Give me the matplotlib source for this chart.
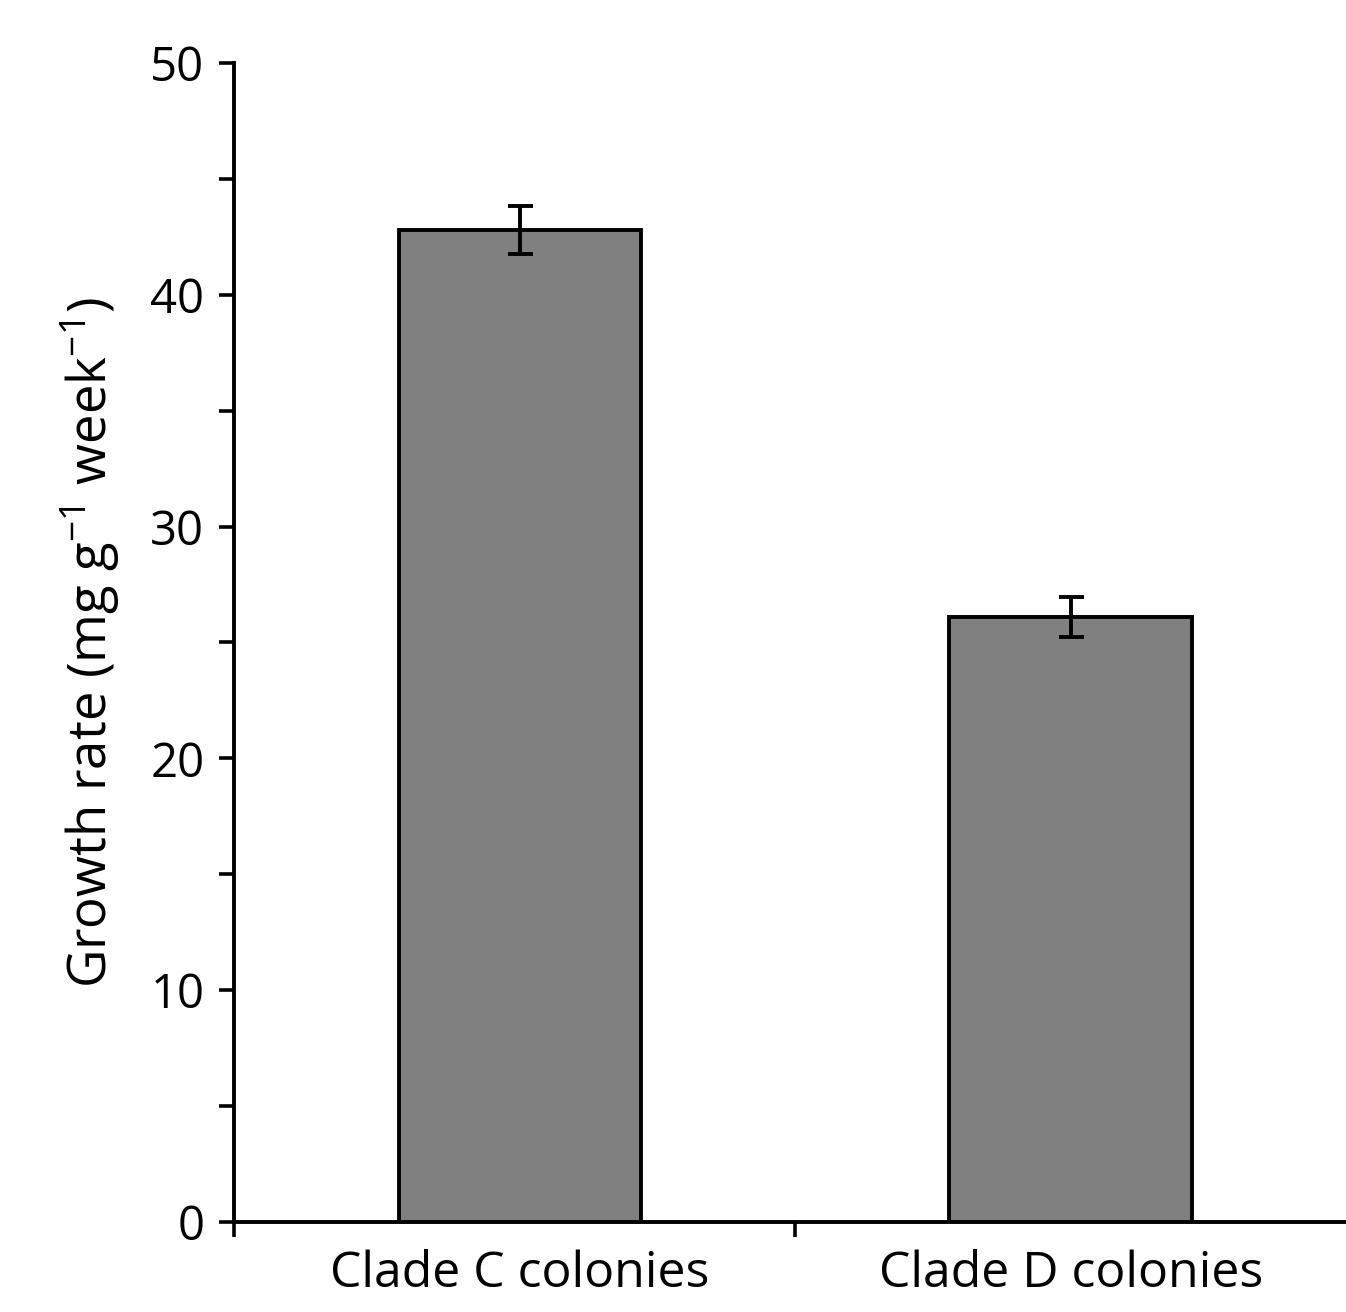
import matplotlib
matplotlib.use("Agg")
import matplotlib.pyplot as plt
from matplotlib.ticker import MultipleLocator, FixedLocator

plt.rcParams['font.family'] = ['Open Sans', 'DejaVu Sans']
plt.rcParams['mathtext.fontset'] = 'custom'
plt.rcParams['mathtext.rm'] = 'Open Sans'
plt.rcParams['mathtext.default'] = 'regular'

# datos
categorias = ["Clade C colonies", "Clade D colonies"]
crecimiento = [42.8, 26.1]
error = [1.05, 0.85]

fig = plt.figure(figsize=(13.46, 13.12), dpi=100)
ax = fig.add_axes([0.1735, 0.0686, 0.8265, 0.8834])

x = list(range(len(categorias)))
ax.bar(x, crecimiento, width=0.44, color="#808080", edgecolor="black", linewidth=2.8, zorder=2)
ax.errorbar(x, crecimiento, yerr=error, fmt="none", ecolor="black", elinewidth=2.8,
            capsize=9, capthick=2.8, zorder=3)

ax.set_xlim(-0.52, 1.5)
ax.set_ylim(0, 50)

ax.yaxis.set_major_locator(MultipleLocator(10))
ax.yaxis.set_minor_locator(MultipleLocator(5))
ax.tick_params(axis="y", which="both", direction="out", length=11, width=2.6, labelsize=34, pad=10)

# ticks del eje x en los bordes de categoria, etiquetas centradas
ax.xaxis.set_major_locator(FixedLocator([-0.52, 0.5]))
ax.xaxis.set_minor_locator(FixedLocator(x))
ax.set_xticks(x, categorias, minor=True)
ax.set_xticklabels([], minor=False)
ax.tick_params(axis="x", which="major", direction="out", length=11, width=2.6)
ax.tick_params(axis="x", which="minor", length=0, labelsize=36, pad=20)

ax.set_ylabel("Growth rate (mg g$^{-1}$ week$^{-1}$)", fontsize=38, labelpad=20)

for s in ["top", "right"]:
    ax.spines[s].set_visible(False)
for s in ["left", "bottom"]:
    ax.spines[s].set_linewidth(2.8)

fig.savefig("out.png", dpi=100)
